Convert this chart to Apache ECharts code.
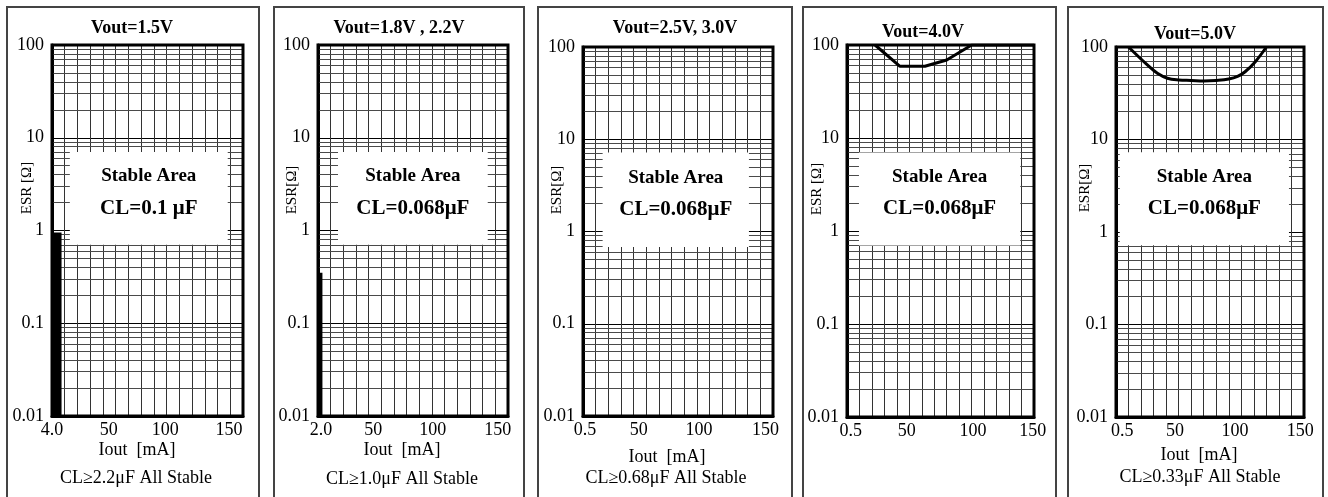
<!DOCTYPE html>
<html><head><meta charset="utf-8">
<script src="https://cdn.jsdelivr.net/npm/echarts@6/dist/echarts.min.js"></script>
<style>html,body{margin:0;padding:0;background:#fff}#c{width:1328px;height:497px}</style>
</head><body><div id="c"></div>
<script>
// ---- data ----
const titles = ['Vout=1.5V', 'Vout=1.8V , 2.2V', 'Vout=2.5V, 3.0V', 'Vout=4.0V', 'Vout=5.0V'];
const capLabels = ['CL=0.1 μF', 'CL=0.068μF', 'CL=0.068μF', 'CL=0.068μF', 'CL=0.068μF'];
const esrNames = ['ESR [Ω]', 'ESR[Ω]', 'ESR[Ω]', 'ESR [Ω]', 'ESR[Ω]'];
const xNames = ['Iout  [mA]', 'Iout  [mA]', 'Iout  [mA]', '', 'Iout  [mA]'];
const footNotes = ['CL≥2.2μF All Stable', 'CL≥1.0μF All Stable', 'CL≥0.68μF All Stable', '', 'CL≥0.33μF All Stable'];
const yDecades = [0.01, 0.1, 1, 10];
const yMinorSteps = [2, 3, 4, 5, 6, 7, 8, 9];
const xTickLabels = [
  ['4.0', '50', '100', '150'],
  ['2.0', '50', '100', '150'],
  ['0.5', '50', '100', '150'],
  ['0.5', '50', '100', '150'],
  ['0.5', '50', '100', '150']
];
const xTickValues = [
  [0, 44.5, 89, 139],
  [2.4, 43.7, 90.6, 142],
  [1.6, 44, 91.6, 144],
  [3, 48, 101, 149],
  [5, 47, 95, 147]
];
// unstable region (filled black) for panels 1 and 2: [xFrom, xTo, yFrom, yTo]
const unstable1 = [0, 7.5, 0.01, 0.95];
const unstable2 = [0, 3.5, 0.01, 0.35];
// unstable boundary curves (Iout mA, ESR ohm)
const curve4 = [[22.5, 100], [42.5, 59], [62.5, 59], [80, 69], [100, 100], [150, 100]];
const curve5 = [[10, 100], [25, 64], [33, 52], [41, 46], [50, 44], [60, 43.5], [70, 43], [80, 43.5], [90, 45], [97, 48], [103, 54], [111, 69], [120, 100]];
// "Stable Area" label box extents in data units [x0, x1, y0, y1]
const stableBox = [
  [14, 138, 0.70, 7.0],
  [15.8, 134, 0.70, 7.0],
  [15.5, 131, 0.68, 7.2],
  [9.6, 139, 0.70, 7.0],
  [3, 138, 0.72, 7.3]
];

// ---- layout ----
const grids = [
  {left: 52, top: 45, width: 191, height: 371},
  {left: 318, top: 45, width: 190, height: 371},
  {left: 583, top: 47, width: 190, height: 369},
  {left: 847, top: 45, width: 187, height: 372},
  {left: 1116, top: 47, width: 188, height: 370}
];
const frames = [[7, 259], [274, 524], [538, 792], [803, 1056], [1068, 1323]];
const titlePos = [[132, 28], [399, 28], [675, 28], [923, 32], [1195, 34]];
const esrPos = [[27, 188], [292, 190], [557, 190], [817, 189], [1085, 188]];
const xNamePos = [[137, 450], [402, 450], [667, 457], [0, 0], [1199, 455]];
const footPos = [[136, 478], [402, 479], [666, 478], [0, 0], [1200, 477]];

const FONT = '"Liberation Serif", "Times New Roman", serif';

const minorValues = [];
yDecades.forEach(d => yMinorSteps.forEach(s => minorValues.push(+(d * s).toPrecision(3))));

const option = {
  animation: false,
  backgroundColor: '#fff',
  grid: grids.map(g => Object.assign({show: true, borderColor: '#000', borderWidth: 3, backgroundColor: 'transparent', z: 6}, g)),
  xAxis: grids.map((g, i) => ({
    gridIndex: i, type: 'value', min: 0, max: 150, interval: 10,
    axisLine: {show: true, lineStyle: {color: '#000', width: 3}},
    axisTick: {show: false},
    splitLine: {show: true, lineStyle: {color: '#333', width: 1}},
    axisLabel: {
      customValues: xTickValues[i], margin: 5,
      fontFamily: FONT, fontSize: 18, color: '#000',
      formatter: (v) => { const k = xTickValues[i].indexOf(v); return k >= 0 ? xTickLabels[i][k] : ''; }
    }
  })),
  yAxis: grids.map((g, i) => ({
    gridIndex: i, type: 'log', logBase: 10, min: 0.01, max: 100,
    axisLine: {show: true, lineStyle: {color: '#000', width: 3}},
    axisTick: {show: false},
    splitLine: {show: true, lineStyle: {color: '#000', width: 1}},
    axisLabel: {
      margin: 8, fontFamily: FONT, fontSize: 18, color: '#000',
      padding: [0, 0, 12, 0],
      formatter: (v) => String(v)
    }
  })),
  series: [],
  graphic: []
};

for (let i = 0; i < 5; i++) {
  // minor log grid lines
  option.series.push({
    type: 'line', xAxisIndex: i, yAxisIndex: i, data: [], symbol: 'none', silent: true, z: 1,
    markLine: {
      silent: true, symbol: 'none', animation: false, z: 1,
      label: {show: false},
      lineStyle: {color: '#4a4a4a', width: 1, type: 'solid'},
      emphasis: {disabled: true},
      data: minorValues.map(v => ({yAxis: v}))
    }
  });
  const b = stableBox[i];
  option.series.push({
    type: 'line', xAxisIndex: i, yAxisIndex: i, data: [], symbol: 'none', silent: true, z: 2,
    markArea: {
      silent: true, z: 2,
      itemStyle: {color: '#fff', borderWidth: 0},
      label: {
        show: true, position: 'inside', offset: [0, -6],
        formatter: '{a|Stable Area}\n{b|' + capLabels[i] + '}',
        rich: {
          a: {fontFamily: FONT, fontSize: 19, fontWeight: 'bold', color: '#000', lineHeight: 32},
          b: {fontFamily: FONT, fontSize: 21, fontWeight: 'bold', color: '#000', lineHeight: 32}
        }
      },
      data: [[{xAxis: b[0], yAxis: b[2]}, {xAxis: b[1], yAxis: b[3]}]]
    }
  });
}
[unstable1, unstable2].forEach((u, i) => {
  option.series.push({
    type: 'line', xAxisIndex: i, yAxisIndex: i, data: [], symbol: 'none', silent: true, z: 3,
    markArea: {silent: true, z: 3, itemStyle: {color: '#000'}, label: {show: false},
      data: [[{xAxis: u[0], yAxis: u[2]}, {xAxis: u[1], yAxis: u[3]}]]}
  });
});
option.series.push({type: 'line', xAxisIndex: 3, yAxisIndex: 3, data: curve4, symbol: 'none',
  lineStyle: {color: '#000', width: 3}, z: 5});
option.series.push({type: 'line', xAxisIndex: 4, yAxisIndex: 4, data: curve5, symbol: 'none', smooth: 0.4,
  lineStyle: {color: '#000', width: 3}, z: 5});

for (let i = 0; i < 5; i++) {
  const f = frames[i];
  option.graphic.push({type: 'rect', shape: {x: f[0], y: 7, width: f[1] - f[0], height: 520},
    style: {fill: 'none', stroke: '#444', lineWidth: 2}, z: 100, silent: true});
  option.graphic.push({type: 'text', x: titlePos[i][0], y: titlePos[i][1], z: 100, silent: true,
    style: {text: titles[i], fontFamily: FONT, fontSize: 18, fontWeight: 'bold', fill: '#000', textAlign: 'center', textVerticalAlign: 'middle'}});
  option.graphic.push({type: 'text', x: esrPos[i][0], y: esrPos[i][1], rotation: Math.PI / 2, z: 100, silent: true,
    style: {text: esrNames[i], fontFamily: FONT, fontSize: 15, fill: '#000', textAlign: 'center', textVerticalAlign: 'middle'}});
  if (xNames[i]) option.graphic.push({type: 'text', x: xNamePos[i][0], y: xNamePos[i][1], z: 100, silent: true,
    style: {text: xNames[i], fontFamily: FONT, fontSize: 18, fill: '#000', textAlign: 'center', textVerticalAlign: 'middle'}});
  if (footNotes[i]) option.graphic.push({type: 'text', x: footPos[i][0], y: footPos[i][1], z: 100, silent: true,
    style: {text: footNotes[i], fontFamily: FONT, fontSize: 18, fill: '#000', textAlign: 'center', textVerticalAlign: 'middle'}});
}

const chart = echarts.init(document.getElementById('c'), null, {renderer: 'canvas'});
chart.setOption(option);
</script>
</body></html>
